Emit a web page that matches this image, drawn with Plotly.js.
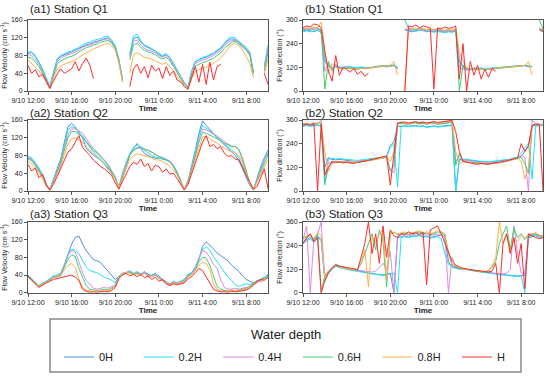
<!DOCTYPE html>
<html><head><meta charset="utf-8">
<script src="https://cdn.plot.ly/plotly-3.0.1.min.js"></script>
<style>html,body{margin:0;padding:0;background:#fff;}#chart{width:550px;height:379px;}</style>
</head><body><div id="chart"></div>
<script>
// ---------- data (20-minute samples, 9/10 12:00 -> 9/11 10:00) ----------
const depthNames = ['0H','0.2H','0.4H','0.6H','0.8H','H'];
const depthColors = ['#4a8fe6','#1fe3f2','#dc8ae6','#3fcf70','#ffad4f','#ff2b2b'];
const T_START = '2020-09-10 12:00';
const T_END = '2020-09-11 10:00';
const STEP_MIN = 20;
const N_POINTS = 67;
const tickLabelsX = ['9/10 12:00','9/10 16:00','9/10 20:00','9/11 0:00','9/11 4:00','9/11 8:00'];

// Flow velocity, Station Q1 (cm/s)
const vQ1_0H = [85,86,78,65,48,28, 10,40,70,78,82,85, 88,92,96,100,104,106, 110,112,115,118,120,112, 100,70,25,null,80,118, 122,110,102,98,95,90, 82,78,82,75,62,48, 32,18,8,45,66,70, 74,76,80,84,90,96, 106,114,118,116,110,104, 95,85,40,null,null,55, 100];
const vQ1_02H = [88,88,80,66,50,30, 12,42,72,80,84,88, 90,94,98,104,108,110, 114,116,118,122,124,115, 102,72,26,null,85,124, 128,114,104,100,96,90, 84,80,84,76,62,48, 32,18,8,44,66,72, 76,78,82,86,92,98, 108,118,122,120,112,106, 98,88,42,null,null,56, 104];
const vQ1_04H = [82,80,72,60,44,25, 8,38,66,74,78,82, 84,88,92,98,102,104, 108,110,114,116,118,110, 98,68,24,null,76,112, 115,104,96,92,90,86, 80,76,80,72,58,45, 30,16,6,40,62,66, 70,72,76,80,86,92, 102,110,114,114,108,102, 94,84,40,null,null,50, 95];
const vQ1_06H = [76,74,66,55,40,22, 6,34,60,68,72,76, 78,82,88,94,98,100, 104,106,110,112,114,108, 96,66,22,null,70,104, 108,98,92,88,86,82, 76,72,76,68,55,42, 28,14,6,36,56,60, 64,66,70,74,80,86, 96,104,110,112,106,100, 92,80,38,null,null,45, 85];
const vQ1_08H = [70,62,56,46,34,18, 5,28,50,56,60,64, 66,70,76,82,86,90, 95,98,102,105,108,102, 92,62,20,null,40,82, 86,80,76,74,72,68, 64,60,64,56,46,34, 22,10,4,28,44,48, 52,54,58,62,68,74, 84,96,104,108,102,92, 78,62,30,null,null,38, 72];
const vQ1_H = [58,40,48,32,38,22, 6,22,38,50,40,45, 50,66,45,62,74,58, 28,null,null,null,null,null, null,null,null,null,10,50, 60,40,55,30,58,45, 52,28,55,35,45,25, 20,10,4,30,55,20, 60,15,65,25,55,60, null,null,null,null,null,null, null,null,null,null,null,40, 15];

// Flow velocity, Station Q2
const vQ2_0H = [77,72,62,50,35,15, 3,25,48,73,110,145, 152,145,130,120,96,88, 81,75,69,60,50,40, 28,8,40,62,82,95, 107,96,85,80,76,74, 74,72,70,66,55,40, 22,3,22,55,92,130, 158,148,138,130,120,112, 104,97,88,80,68,48, 28,12,2,30,55,75, 92];
const vQ2_02H = [78,74,64,52,36,16, 4,24,46,70,105,138, 145,142,132,124,110,98, 88,80,72,64,54,42, 30,8,38,64,85,98, 104,98,90,84,80,76, 75,73,70,66,56,42, 22,4,24,52,88,125, 148,142,134,128,122,114, 106,100,92,86,74,54, 32,14,3,28,52,74, 90];
const vQ2_04H = [74,70,60,48,34,14, 3,22,44,66,98,128, 140,140,135,130,118,105, 95,88,80,70,60,46, 32,8,35,60,82,92, 98,96,94,92,88,82, 78,76,72,68,58,44, 24,4,22,50,82,118, 140,138,132,128,124,118, 110,106,102,100,92,70, 40,16,3,25,48,70, 86];
const vQ2_06H = [72,68,58,46,32,12, 3,20,42,62,92,120, 134,134,128,122,112,102, 92,86,78,68,58,44, 30,7,32,56,80,92, 96,100,95,92,88,82, 78,74,70,66,56,42, 22,3,20,48,78,110, 132,130,126,122,118,114, 108,104,100,100,94,74, 44,18,4,24,46,66, 82];
const vQ2_08H = [66,62,52,42,28,10, 2,18,38,56,82,106, 118,120,115,110,100,92, 84,78,70,60,52,40, 26,6,28,50,72,80, 84,82,80,78,75,70, 70,66,62,56,48,36, 18,3,18,44,70,98, 122,122,118,112,108,102, 96,92,88,86,80,64, 38,14,3,20,40,56, 72];
const vQ2_H = [60,45,52,30,38,15, 2,15,32,50,72,88, 95,110,125,98,90,80, 70,62,55,50,42,35, 18,4,22,40,55,65, 60,72,55,62,45,58, 55,42,50,38,40,28, 15,2,15,40,62,85, 110,125,100,105,95,100, 85,78,80,72,70,55, 35,20,4,10,30,50, 5];

// Flow velocity, Station Q3
const vQ3_0H = [38,30,22,15,20,25, 30,36,38,42,62,85, 110,125,128,110,95,85, 75,72,68,58,48,40, 30,36,42,45,48,42, 46,40,48,42,38,44, 36,30,25,20,24,22, 25,30,40,45,55,75, 105,115,108,98,90,84, 78,72,62,55,48,38, 30,26,22,28,25,32, 40];
const vQ3_02H = [40,32,24,16,22,26, 32,38,40,44,64,88, 98,96,88,74,58,50, 48,45,40,35,32,28, 22,38,44,46,50,44, 48,42,46,40,40,44, 34,28,24,20,26,22, 26,30,42,46,58,78, 98,104,96,82,70,58, 45,35,28,18,14,18, 20,18,22,26,30,35, 42];
const vQ3_04H = [36,28,20,14,20,24, 30,35,38,42,62,84, 96,92,70,45,28,18, 10,8,10,12,10,14, 18,36,44,46,48,42, 46,40,46,40,38,42, 34,28,24,19,24,22, 24,28,40,44,56,78, 96,92,80,64,55,30, 12,8,8,10,8,10, 12,14,22,28,30,32, 38];
const vQ3_06H = [36,28,20,15,20,24, 28,34,36,40,58,76, 85,82,55,35,16,8, 6,5,6,8,6,10, 15,35,42,45,46,42, 44,40,44,38,36,40, 32,26,22,18,22,20, 22,26,38,42,52,70, 80,78,62,40,14,8, 5,4,6,5,6,8, 10,14,20,26,30,34, 36];
const vQ3_08H = [38,30,22,14,20,24, 28,34,36,38,52,62, 66,58,30,12,6,4, 3,4,3,5,4,8, 14,34,42,46,44,42, 42,40,44,38,36,40, 32,26,22,18,22,20, 22,24,36,40,50,62, 70,66,52,20,8,4, 3,4,5,4,5,6, 8,12,18,24,28,30, 34];
const vQ3_H = [38,28,20,12,18,22, 26,30,32,34,36,38, 40,35,28,8,3,1, 2,1,2,3,2,5, 12,32,40,44,38,42, 36,42,34,38,30,35, 26,30,20,16,20,18, 20,22,32,36,45,55, 50,35,22,8,4,2, 2,1,3,2,3,4, 6,10,18,25,30,28, 35];

// Flow direction, Station Q1 (degrees)
const dQ1_0H = [305,310,305,300,310,295, 150,125,110,130,120,118, 122,120,118,115,120,118, 120,118,122,125,128,125, 128,130,120,null,310,305, 300,305,310,308,300,305, 300,305,300,298,302,300, 305,150,120,110,110,115, 112,115,110,112,115,118, 118,120,120,122,125,125, 128,130,125,125,null,315, 305];
const dQ1_02H = [300,305,300,305,308,300, 160,130,115,125,122,120, 125,122,120,118,122,120, 118,120,125,128,126,128, 130,132,118,null,312,308, 305,302,308,306,302,300, 298,302,300,296,300,298, 302,160,125,112,112,118, 115,118,112,115,118,120, 120,122,122,124,126,128, 130,128,125,124,null,312, 308];
const dQ1_04H = [310,315,310,312,315,305, 100,140,120,135,118,115, 118,115,112,110,115,112, 115,118,120,122,125,122, 125,128,115,null,315,312, 310,308,312,310,305,308, 305,308,304,300,305,302, 308,120,110,105,108,110, 110,112,108,110,112,115, 115,118,118,120,122,125, 126,128,122,122,null,318, 310];
const dQ1_06H = [312,318,315,320,318,310, 10,150,100,130,115,112, 115,112,110,112,118,115, 118,120,122,125,128,126, 128,130,110,null,360,318, 315,312,318,314,310,312, 310,312,308,305,310,306, 312,0,130,115,108,112, 108,112,106,110,112,115, 116,118,120,122,124,126, 128,130,125,125,null,360, 315];
const dQ1_08H = [315,320,318,325,320,350, 200,90,140,120,115,112, 118,115,112,110,115,114, 116,118,122,124,128,125, 128,150,80,null,0,315, 318,315,320,316,312,315, 312,315,310,308,312,308, 315,200,150,120,110,112, 110,112,108,112,114,116, 118,120,122,124,126,128, 130,130,150,80,null,320, 312];
const dQ1_H = [320,330,325,340,335,320, 200,100,50,180,80,120, 110,95,115,85,100,75, 90,null,null,null,null,null, null,null,null,null,0,330, 325,335,320,330,325,320, 10,320,315,325,318,320, 330,60,240,0,150,80, 130,60,110,70,115,100, null,null,null,null,null,null, null,null,null,null,null,310, 300];

// Flow direction, Station Q2
const dQ2_0H = [330,335,330,332,335,330, 120,170,160,158,160,158, 155,152,150,150,152,155, 158,160,162,165,168,175, 230,250,330,325,330,328, 330,332,328,330,325,328, 330,326,328,330,332,335, 0,160,155,158,155,152, 150,148,148,145,148,150, 152,155,158,160,165,170, 175,200,230,330,332,330, 335];
const dQ2_02H = [328,332,328,330,332,330, 30,160,165,162,165,162, 160,158,155,155,158,160, 162,165,168,170,172,178, 220,240,20,330,328,326, 328,330,326,328,322,326, 328,324,326,328,330,332, 0,165,160,162,158,155, 152,150,150,148,150,152, 155,158,160,162,168,172, 190,220,240,60,330,332, 335];
const dQ2_04H = [335,340,335,338,340,360, 80,140,150,148,150,148, 148,145,145,148,150,152, 155,158,160,165,168,172, 110,90,340,345,342,340, 345,348,342,345,340,345, 345,340,342,345,348,350, 150,180,160,155,150,148, 145,142,142,140,142,145, 148,150,155,158,162,168, 180,170,0,360,340,340, 338];
const dQ2_06H = [338,340,336,340,342,345, 40,120,145,145,148,146, 145,143,142,145,148,150, 152,155,158,162,165,170, 100,130,340,342,340,338, 342,345,340,342,338,342, 342,338,340,342,345,348, 130,190,150,148,145,142, 140,138,138,136,140,142, 145,148,152,156,160,165, 170,140,90,335,340,338, 335];
const dQ2_08H = [340,342,338,345,345,340, 200,100,140,145,150,148, 148,146,145,148,150,152, 155,158,160,165,168,175, 150,200,345,348,345,342, 345,350,345,348,342,348, 350,345,348,350,352,355, 200,140,150,148,145,140, 138,136,136,135,138,140, 142,146,150,155,160,165, 150,60,120,330,338,335, 335];
const dQ2_H = [335,340,335,345,0,340, 80,120,150,145,148,142, 145,142,140,145,148,150, 155,160,165,170,172,178, 30,200,345,348,350,345, 348,352,345,350,345,350, 352,348,350,352,355,358, 300,200,150,145,140,138, 135,140,138,136,140,142, 145,150,152,158,162,168, 240,200,230,330,340,335, 0];

// Flow direction, Station Q3
const dQ3_0H = [260,270,280,260,290,270, 80,110,125,140,130,125, 120,118,115,112,110,105, 100,98,95,92,90,95, 100,0,280,285,290,282, 288,290,295,285,290,280, 285,290,295,280,160,130, 125,120,122,118,115,112, 110,108,105,102,100,98, 95,92,90,88,85,85, 88,90,280,285,290,282, 285];
const dQ3_02H = [250,265,275,255,280,265, 60,100,120,135,128,122, 118,115,112,110,108,102, 98,95,92,90,88,92, 95,100,0,280,285,280, 285,288,290,282,285,278, 280,285,275,200,145,132, 128,122,120,118,115,110, 108,105,102,100,98,95, 92,90,88,86,84,82, 85,0,285,290,295,288, 290];
const dQ3_04H = [270,340,0,280,300,360, 70,100,130,145,135,128, 125,120,118,115,112,110, 108,105,110,130,150,120, 210,0,290,295,300,290, 295,300,305,295,300,290, 295,300,290,300,0,180, 130,125,122,118,115,112, 110,108,105,110,100,98, 96,95,100,120,340,200, 100,90,290,295,300,292, 288];
const dQ3_06H = [275,285,290,270,300,0, 90,110,130,145,135,130, 125,122,120,118,150,200, 250,300,220,320,260,30, 300,310,295,300,305,295, 300,305,310,300,305,295, 300,310,305,290,200,140, 130,125,120,118,115,112, 110,108,104,110,130,160, 250,300,340,220,330,280, 300,270,290,295,300,290, 285];
const dQ3_08H = [280,290,295,275,305,290, 70,105,128,142,132,126, 122,120,118,115,160,220, 30,280,250,300,320,60, 310,305,300,305,310,300, 305,310,315,305,310,300, 305,315,310,300,210,145, 135,128,122,120,116,114, 112,110,106,115,140,180, 360,250,300,200,280,260, 290,280,295,300,305,292, 288];
const dQ3_H = [250,280,300,260,280,0, 60,100,125,140,135,130, 128,125,122,115,180,250, 360,200,300,150,340,180, 320,290,280,300,295,310, 300,305,295,310,40,320, 330,340,300,250,200,160, 140,130,125,120,118,115, 112,110,108,105,110,150, 0,250,300,200,280,150, 250,20,300,290,280,275, 280];

const panelTitles = ['(a1) Station Q1','(b1) Station Q1','(a2) Station Q2','(b2) Station Q2','(a3) Station Q3','(b3) Station Q3'];
const velTitle = 'Flow Velocity (cm s<sup>-1</sup>)';
const dirTitle = 'Flow direction (°)';
const legendTitle = 'Water depth';

// ---------- build ----------
const W = 550, H = 379;
const px = v => v / W, py = v => 1 - v / H;
function timeAt(i) {
  const m = 12 * 60 + i * STEP_MIN;
  const day = 10 + Math.floor(m / 1440), mm = m % 1440;
  const hh = Math.floor(mm / 60), mi = mm % 60;
  return '2020-09-' + day + ' ' + String(hh).padStart(2, '0') + ':' + String(mi).padStart(2, '0');
}
const times = [];
for (let i = 0; i < N_POINTS; i++) times.push(timeAt(i));

const panelSeries = [
  [vQ1_0H, vQ1_02H, vQ1_04H, vQ1_06H, vQ1_08H, vQ1_H],
  [dQ1_0H, dQ1_02H, dQ1_04H, dQ1_06H, dQ1_08H, dQ1_H],
  [vQ2_0H, vQ2_02H, vQ2_04H, vQ2_06H, vQ2_08H, vQ2_H],
  [dQ2_0H, dQ2_02H, dQ2_04H, dQ2_06H, dQ2_08H, dQ2_H],
  [vQ3_0H, vQ3_02H, vQ3_04H, vQ3_06H, vQ3_08H, vQ3_H],
  [dQ3_0H, dQ3_02H, dQ3_04H, dQ3_06H, dQ3_08H, dQ3_H]
];

const colX = [[28, 268], [303, 543]];
const rowY = [[20, 91], [120, 191], [222, 292.7]];
const titleY = [8.5, 113, 213.5];
const AX = '#555';

const traces = [];
const layout = {
  width: W, height: H, margin: {l: 0, r: 0, t: 0, b: 0},
  paper_bgcolor: '#fff', plot_bgcolor: '#fff',
  font: {family: 'Liberation Sans, Arial, sans-serif', color: '#222'},
  showlegend: true,
  legend: {
    orientation: 'h', x: px(59), xanchor: 'left', y: py(342.5), yanchor: 'top',
    bgcolor: 'rgba(0,0,0,0)', borderwidth: 0, font: {size: 11, color: '#222'},
    entrywidth: 34.6, itemwidth: 30, traceorder: 'normal'
  },
  annotations: [{
    text: legendTitle, xref: 'paper', yref: 'paper', x: px(285.5), y: py(334),
    xanchor: 'center', yanchor: 'middle', showarrow: false, font: {size: 13, color: '#222'}
  }],
  shapes: [{type: 'rect', xref: 'paper', yref: 'paper', x0: px(50), x1: px(521), y0: py(372), y1: py(319),
            line: {color: '#888', width: 1.5}, fillcolor: 'rgba(0,0,0,0)'}]
};

panelSeries.forEach((series, p) => {
  const col = p % 2, row = Math.floor(p / 2);
  const n = p + 1;
  const xk = n === 1 ? 'xaxis' : 'xaxis' + n, yk = n === 1 ? 'yaxis' : 'yaxis' + n;
  const xr = n === 1 ? 'x' : 'x' + n, yr = n === 1 ? 'y' : 'y' + n;
  const isVel = col === 0;
  layout[xk] = {
    domain: [px(colX[col][0]), px(colX[col][1])], anchor: yr, type: 'date',
    range: [T_START, T_END], tickmode: 'array',
    tickvals: tickLabelsX.map((_, k) => timeAt(k * 12)), ticktext: tickLabelsX,
    ticks: 'outside', ticklen: 3, tickwidth: 1, tickcolor: AX,
    showline: true, linecolor: AX, linewidth: 1, mirror: true,
    showgrid: false, zeroline: false, tickfont: {size: 7, color: '#222'},
    title: {text: '<b>Time</b>', font: {size: 8, color: '#222'}, standoff: 1}
  };
  layout[yk] = {
    domain: [py(rowY[row][1]), py(rowY[row][0])], anchor: xr,
    range: isVel ? [0, 160] : [0, 360], tick0: 0, dtick: isVel ? 40 : 120,
    ticks: 'outside', ticklen: 3, tickwidth: 1, tickcolor: AX,
    showline: true, linecolor: AX, linewidth: 1, mirror: true,
    showgrid: false, zeroline: false, tickfont: {size: 7, color: '#222'},
    title: {text: isVel ? velTitle : dirTitle, font: {size: 7, color: '#222'}, standoff: 2}
  };
  series.forEach((vals, k) => {
    traces.push({
      type: 'scatter', mode: 'lines', x: times, y: vals, xaxis: xr, yaxis: yr,
      name: depthNames[k], legendgroup: depthNames[k], showlegend: p === 0,
      line: {color: depthColors[k], width: 1}, connectgaps: false, hoverinfo: 'skip'
    });
  });
  layout.annotations.push({
    text: panelTitles[p], xref: 'paper', yref: 'paper', x: px(colX[col][0]), y: py(titleY[row]),
    xanchor: 'left', yanchor: 'middle', showarrow: false, font: {size: 11.5, color: '#222'}
  });
});

Plotly.newPlot('chart', traces, layout, {staticPlot: true, displayModeBar: false});
</script></body></html>
